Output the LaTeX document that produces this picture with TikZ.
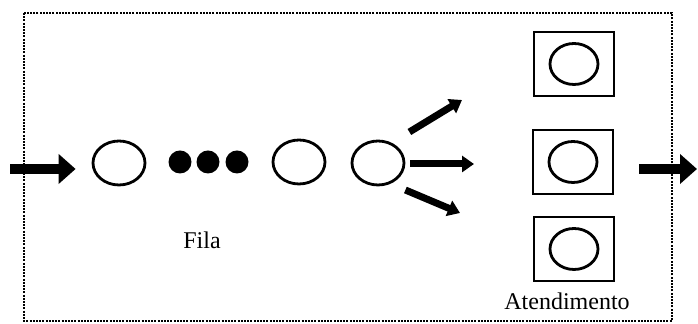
\documentclass[tikz,border=0pt]{standalone}
\usepackage{fontspec}
\setmainfont{Liberation Serif}
\usetikzlibrary{arrows.meta,shapes.geometric}

\begin{document}
\begin{tikzpicture}[x=0.5pt,y=-0.5pt,
  font=\fontsize{12}{14}\selectfont,
  cliente/.style={draw,ellipse,line width=1.4pt,minimum width=26pt,minimum height=22pt,inner sep=0pt},
  ponto/.style={fill,circle,minimum size=11.5pt,inner sep=0pt},
  posto/.style={draw,rectangle,line width=1.1pt,minimum width=40pt,minimum height=32pt,inner sep=0pt},
  atendente/.style={draw,ellipse,line width=1.4pt,minimum width=24pt,minimum height=20.5pt,inner sep=0pt},
  seta/.style={line width=5pt,-{Triangle[length=8.5pt,width=14.5pt]}},
  leque/.style={line width=3.5pt,-{Triangle[length=6pt,width=8pt]}}]
\useasboundingbox (0,0) rectangle (698,324);
% moldura do sistema
\draw[line width=1.4pt,dash pattern=on 1pt off 0.6pt] (24,13) rectangle (672,321);
% fila
\node[cliente] (q1) at (119,163) {};
\node[ponto] (d1) at (180,162) {};
\node[ponto] (d2) at (208,162) {};
\node[ponto] (d3) at (237,162) {};
\node[cliente] (q3) at (299,162) {};
\node[cliente] (q4) at (378,163) {};
\node (fila) at (202,240) {Fila};
% postos de atendimento
\node[posto] (s1) at (574,64) {};
\node[posto] (s2) at (573,162) {};
\node[posto] (s3) at (574,249) {};
\node[atendente] (c1) at (s1) {};
\node[atendente] (c2) at (s2) {};
\node[atendente] (c3) at (s3) {};
\node (atend) at (567,301) {Atendimento};
% chegada e saida
\coordinate (in) at (10,169);
\coordinate (out) at (697,169);
\draw[seta] (in) -- ([xshift=-8pt]in -| q1.west);
\draw[seta] ([xshift=12.5pt]out -| s2.east) -- (out);
% escolha do posto
\coordinate (t1) at (462,100);
\coordinate (t2) at (474,164);
\coordinate (t3) at (460,213);
\draw[leque] ([xshift=2pt,yshift=15.5pt]q4.east) -- (t1);
\draw[leque] ([xshift=2.5pt,yshift=-0.5pt]q4.east) -- (t2);
\draw[leque] ([yshift=-13.5pt]q4.east) -- (t3);
\end{tikzpicture}
\end{document}
